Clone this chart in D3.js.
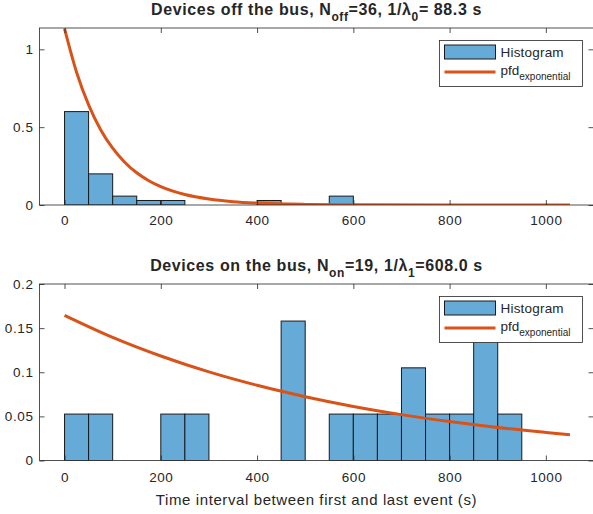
<!DOCTYPE html>
<html>
<head>
<meta charset="utf-8">
<script src="https://cdn.jsdelivr.net/npm/d3@7"></script>
<style>
  body { margin: 0; background: #fff; }
  svg text { font-family: "Liberation Sans", Arial, sans-serif; fill: #262626; }
</style>
</head>
<body>
<svg id="chart" width="593" height="514"></svg>
<script>
// histogram bins (left edge, width 50 s) and probabilities
const binWidth = 50;
const offBins = [0, 50, 100, 150, 200, 400, 550];
const offProb = [0.6, 0.2, 0.057, 0.029, 0.029, 0.029, 0.057];
const onBins = [0, 50, 200, 250, 450, 550, 600, 650, 700, 750, 800, 850, 900];
const onProb = [0.0526, 0.0526, 0.0526, 0.0526, 0.158, 0.0526, 0.0526, 0.0526, 0.105, 0.0526, 0.0526, 0.158, 0.0526];

// fitted exponential curves
const offCurveX = [0, 25, 50, 75, 100, 125, 150, 175, 200, 250, 300, 350, 400, 500, 600, 800, 1050];
const offCurveY = [1.133, 0.853, 0.643, 0.484, 0.365, 0.275, 0.207, 0.156, 0.118, 0.067, 0.038, 0.0215, 0.0122, 0.0039, 0.0013, 0.0001, 0];
const onCurveX = [0, 100, 200, 300, 400, 500, 600, 700, 800, 900, 1000, 1050];
const onCurveY = [0.1645, 0.1395, 0.1184, 0.1004, 0.0852, 0.0723, 0.0613, 0.052, 0.0441, 0.0374, 0.0318, 0.0292];

// tick values
const xTicks = [0, 200, 400, 600, 800, 1000];
const offYTicks = [0, 0.5, 1];
const onYTicks = [0, 0.05, 0.1, 0.15, 0.2];

const svg = d3.select("#chart");
const barFill = "rgb(102,170,215)";
const lineColor = "rgb(217,83,25)";
const axisColor = "#262626";

function drawPanel(p) {
  const g = svg.append("g");
  const x = d3.scaleLinear().domain([-52, 1100]).range([39.5, 594]);
  const y = d3.scaleLinear().domain(p.yDomain).range([p.bottom, p.top]);

  // bars
  g.selectAll("rect.bar")
    .data(p.bins.map((b, i) => ({ x0: b, v: p.prob[i] })))
    .join("rect")
    .attr("class", "bar")
    .attr("x", d => x(d.x0))
    .attr("y", d => y(d.v))
    .attr("width", d => x(d.x0 + binWidth) - x(d.x0))
    .attr("height", d => y(0) - y(d.v))
    .attr("fill", barFill)
    .attr("stroke", "#1a1a1a")
    .attr("stroke-width", 1);

  // fitted curve
  const line = d3.line()
    .x(d => x(d[0]))
    .y(d => y(d[1]))
    .curve(d3.curveMonotoneX);
  g.append("path")
    .datum(p.curveX.map((v, i) => [v, p.curveY[i]]))
    .attr("d", line)
    .attr("fill", "none")
    .attr("stroke", lineColor)
    .attr("stroke-width", 3);

  // clip anything above the box (curve starts above the top limit)
  const clipId = "clip" + p.top;
  svg.append("clipPath").attr("id", clipId)
    .append("rect")
    .attr("x", 39.5).attr("y", p.top)
    .attr("width", 560).attr("height", p.bottom - p.top);
  g.attr("clip-path", `url(#${clipId})`);

  // axes
  const ax = svg.append("g");
  ax.append("g")
    .attr("transform", `translate(0,${p.bottom})`)
    .call(d3.axisBottom(x).tickValues(xTicks).tickSize(-5).tickPadding(p.xPad).tickFormat(d3.format("d")));
  ax.append("g")
    .attr("transform", `translate(0,${p.top})`)
    .call(d3.axisTop(x).tickValues(xTicks).tickSize(-5).tickFormat(""));
  ax.append("g")
    .attr("transform", "translate(39.5,0)")
    .call(d3.axisLeft(y).tickValues(p.yTicks).tickSize(-5).tickPadding(6).tickFormat(d3.format("~g")));
  ax.append("g")
    .attr("transform", "translate(593.5,0)")
    .call(d3.axisRight(y).tickValues(p.yTicks).tickSize(-5).tickFormat(""));
  ax.selectAll(".domain").remove();
  ax.selectAll(".tick line").attr("stroke", axisColor).attr("stroke-width", 0.8);
  ax.selectAll(".tick text").attr("font-size", 13.5).attr("fill", axisColor)
    .attr("letter-spacing", 0.6)
    .attr("font-family", "'Liberation Sans', Arial, sans-serif");

  ax.append("rect")
    .attr("x", 39.5).attr("y", p.top)
    .attr("width", 554).attr("height", p.bottom - p.top)
    .attr("fill", "none").attr("stroke", axisColor).attr("stroke-width", 0.8);

  // title with subscripts
  const t = svg.append("text")
    .attr("x", 316.5).attr("y", p.top - 13)
    .attr("text-anchor", "middle")
    .attr("font-size", 16).attr("font-weight", "bold")
    .attr("letter-spacing", 0.6);
  t.append("tspan").text(p.title[0]);
  t.append("tspan").attr("dy", 6).attr("font-size", 12).text(p.title[1]);
  t.append("tspan").attr("dy", -6).text(p.title[2]);
  t.append("tspan").attr("dy", 6).attr("font-size", 12).text(p.title[3]);
  t.append("tspan").attr("dy", -6).text(p.title[4]);

  // legend
  const lg = svg.append("g").attr("transform", `translate(439.5,${p.top + 12.5})`);
  lg.append("rect").attr("width", 143).attr("height", 46)
    .attr("fill", "#fff").attr("stroke", axisColor).attr("stroke-width", 0.8);
  lg.append("rect").attr("x", 5).attr("y", 4.5).attr("width", 51).attr("height", 14)
    .attr("fill", barFill).attr("stroke", "#1a1a1a").attr("stroke-width", 1);
  lg.append("text").attr("x", 61).attr("y", 16.5).attr("font-size", 13.5)
    .attr("letter-spacing", 0.2).text("Histogram");
  lg.append("line").attr("x1", 5).attr("x2", 56).attr("y1", 31.5).attr("y2", 31.5)
    .attr("stroke", lineColor).attr("stroke-width", 3);
  const lt = lg.append("text").attr("x", 61).attr("y", 34).attr("font-size", 13.5);
  lt.append("tspan").text("pfd");
  lt.append("tspan").attr("dy", 5).attr("font-size", 10).text("exponential");
}

drawPanel({
  top: 28, bottom: 205, yDomain: [0, 1.137], yTicks: offYTicks, xPad: 10,
  bins: offBins, prob: offProb, curveX: offCurveX, curveY: offCurveY,
  title: ["Devices off the bus, N", "off", "=36, 1/\u03bb", "0", "= 88.3 s"]
});
drawPanel({
  top: 284, bottom: 460.5, yDomain: [0, 0.2], yTicks: onYTicks, xPad: 12,
  bins: onBins, prob: onProb, curveX: onCurveX, curveY: onCurveY,
  title: ["Devices on the bus, N", "on", "=19, 1/\u03bb", "1", "=608.0 s"]
});

svg.append("text")
  .attr("x", 316.5).attr("y", 505)
  .attr("text-anchor", "middle")
  .attr("font-size", 15)
  .attr("letter-spacing", 0.6)
  .text("Time interval between first and last event (s)");
</script>
</body>
</html>
